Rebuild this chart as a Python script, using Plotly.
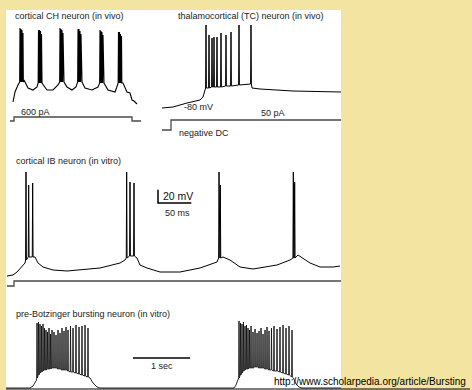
import plotly.graph_objects as go

W, H = 472, 390
BG = "#F4E4A1"
FONT = "Liberation Sans, Arial, sans-serif"

# ---------------- DATA ----------------
# Panel A: cortical CH neuron (in vivo)   time in ms, voltage in mV
A_base_t = [1, 3, 6, 12, 16, 21, 25, 30, 35, 41, 46, 52, 55, 60, 64, 70, 73, 80, 86, 92, 96, 103, 104.5, 111, 115, 118, 120, 122, 125]
A_base_v = [-72, -62, -55, -50, -58, -60, -57, -53, -60, -60, -55, -52, -57, -60, -57, -52, -58, -60, -57, -53, -60, -62, -58, -53, -62, -63, -70, -71, -74]
A_spk_t = [8, 9, 10, 11, 26.5, 27.5, 28.5, 29.5, 48, 49, 50, 51, 66, 67, 68, 69, 88, 89, 90, 91, 106.5, 107.5, 108.5, 109.5]
A_spk_base = [-52, -52, -52, -52, -53, -53, -53, -53, -52, -52, -52, -52, -52, -52, -52, -52, -53, -53, -53, -53, -53, -53, -53, -53]
A_spk_peak = [2, 1, 0, -3, 0, 0, -1, -4, 2, 1, 0, -3, 1, 1, -1, -4, 0, -1, -2, -5, -2, -2, -4, -6]
A_stim_t = [-2, 2, 2, 120, 120, 129]
A_stim_pA = [0, 0, 600, 600, 0, 0]

# Panel B: thalamocortical (TC) neuron (in vivo)
B_base_t = [0, 11, 25, 38, 41, 43, 90, 98, 131, 179]
B_base_v = [-84, -83, -79, -76, -73, -66, -64, -65, -67, -68]
B_spk_t = [44, 47, 50, 52, 55, 59, 64, 69, 77, 89]
B_spk_base = [-64, -64, -63, -63, -63, -63, -62, -62, -61, -60]
B_spk_peak = [-1, -11, -14, -13, -13, -9, -11, -8, -1, -1]
B_stim_t = [0, 9, 9, 179]
B_stim_pA = [-100, -100, 50, 50]

# Panel C: cortical IB neuron (in vitro)
C_base_t = [0, 9, 15, 22.5, 27, 42, 46.5, 54, 69, 90, 139.5, 169.5, 177, 195, 199.5, 210, 229.5, 259.5, 289.5, 315,
            324, 334.5, 349.5, 369, 405, 424.5, 436.5, 444, 454.5, 469.5, 489, 499.5]
C_base_v = [-65, -63.5, -59, -51.5, -45.5, -36.5, -45.5, -51.5, -56, -57.5, -53, -45.5, -41, -38, -48.5, -53, -59, -59, -53, -44,
            -36.5, -41, -51.5, -54.5, -48.5, -41, -33.5, -38, -45.5, -51.5, -51.5, -50]
C_spk_t = [28.5, 32.5, 38.5, 179.5, 184.5, 190.5, 318, 320, 429.5, 431.5]
C_spk_base = [-41, -36.5, -36.5, -38, -35, -35, -38, -38, -38, -38]
C_spk_peak = [91, 71.5, 74.5, 91, 76, 74.5, 91, 71.5, 91, 76]
C_stim_t = [0, 10.5, 10.5, 501]
C_stim_pA = [0, 0, 500, 500]
C_scale_mV = 20
C_scale_ms = 50

# Panel D: pre-Botzinger bursting neuron (in vitro)
D_base_t = [0, 420, 473, 508, 534, 1470, 1523, 1593, 1645, 3990, 4025, 4051, 5031, 5075, 5128, 5180, 5863]
D_base_v = [-60, -60, -58, -55, -52, -50, -55, -59, -60, -60, -57, -53, -50, -56, -59, -60, -60]
D_spk_t = [543, 569, 595, 621, 648, 674, 700, 726, 753, 779, 805, 840, 875, 910, 945, 980, 1015, 1050, 1085, 1129, 1173, 1225, 1278, 1330, 1383, 1435,
           4078, 4104, 4130, 4156, 4183, 4209, 4235, 4261, 4288, 4323, 4358, 4393, 4428, 4463, 4498, 4533, 4568, 4603, 4646, 4690, 4743, 4795, 4848, 4900, 4953, 5005]
D_spk_base = [-50, -47, -45, -44, -43, -42, -42, -41, -41, -41, -40, -40, -40, -41, -41, -42, -42, -42, -43, -44, -44, -45, -46, -47, -48, -49,
              -50, -47, -45, -43, -42, -41, -41, -40, -40, -40, -39, -39, -40, -40, -40, -41, -41, -42, -42, -43, -43, -44, -45, -46, -47, -49]
D_spk_peak = [5, 6, 4, 2, 4, 0, -2, -4, 0, -6, -2, -4, -7, -2, -5, 0, -3, 1, -2, 2, 0, 3, 1, 2, 3, 0,
              7, 5, 4, 6, 2, 3, 0, -2, 2, -4, -1, -5, -3, 0, -6, -2, 1, -3, 0, 2, -1, 1, 3, 0, 2, -2]
D_scale_s = 1

# ---------------- LAYOUT HELPERS ----------------
MAP = {
    "A": dict(px0=12, t0=0, sx=1.0, py0=90, v0=-60, sy=1.0, ipy0=121, i0=0, si=150),
    "B": dict(px0=162, t0=0, sx=1.0, py0=104, v0=-80, sy=1.0, ipy0=120, i0=50, si=15),
    "C": dict(px0=7, t0=0, sx=1.5, py0=276, v0=-65, sy=1.5, ipy0=286, i0=0, si=100),
    "D": dict(px0=6, t0=0, sx=17.5, py0=388, v0=-60, sy=1.0),
}


def xr(m):
    return [m["t0"] + (0 - m["px0"]) * m["sx"], m["t0"] + (W - m["px0"]) * m["sx"]]


def yr(py0, v0, s):
    return [v0 + (py0 - H) * s, v0 + py0 * s]


def build(bt, bv, st, sb, sp, eps):
    ev = [(t, 0, v, None) for t, v in zip(bt, bv)] + [(t, 1, b, p) for t, b, p in zip(st, sb, sp)]
    ev.sort(key=lambda e: e[0])
    xs, ys = [], []
    for t, kind, v, p in ev:
        if kind == 0:
            xs.append(t); ys.append(v)
        else:
            xs += [t - eps, t, t + eps]
            ys += [v, p, v]
    return xs, ys


fig = go.Figure()
LINE = dict(color="#000000", width=1.1)
STIM = dict(color="#4a4a4a", width=1.3)

ax, ay = build(A_base_t, A_base_v, A_spk_t, A_spk_base, A_spk_peak, 0.35)
fig.add_trace(go.Scatter(x=ax, y=ay, mode="lines", line=LINE, xaxis="x", yaxis="y"))
fig.add_trace(go.Scatter(x=A_stim_t, y=A_stim_pA, mode="lines", line=STIM, xaxis="x", yaxis="y5"))

bx, by = build(B_base_t, B_base_v, B_spk_t, B_spk_base, B_spk_peak, 0.4)
fig.add_trace(go.Scatter(x=bx, y=by, mode="lines", line=dict(color="#000", width=1.0), xaxis="x2", yaxis="y2"))
fig.add_trace(go.Scatter(x=B_stim_t, y=B_stim_pA, mode="lines", line=STIM, xaxis="x2", yaxis="y6"))

cx, cy = build(C_base_t, C_base_v, C_spk_t, C_spk_base, C_spk_peak, 0.6)
fig.add_trace(go.Scatter(x=cx, y=cy, mode="lines", line=dict(color="#000", width=1.0), xaxis="x3", yaxis="y3"))
fig.add_trace(go.Scatter(x=C_stim_t, y=C_stim_pA, mode="lines", line=STIM, xaxis="x3", yaxis="y7"))
sb_t0, sb_v0 = 226.5, 44.5
fig.add_trace(go.Scatter(x=[sb_t0, sb_t0, sb_t0 + C_scale_ms], y=[sb_v0 + C_scale_mV, sb_v0, sb_v0],
                         mode="lines", line=dict(color="#000", width=1.5), xaxis="x3", yaxis="y3"))

dx, dy = build(D_base_t, D_base_v, D_spk_t, D_spk_base, D_spk_peak, 6.0)
fig.add_trace(go.Scatter(x=dx, y=dy, mode="lines", line=dict(color="#111", width=0.9), xaxis="x4", yaxis="y4"))
sd_t0, sd_v0 = 2222.5, -30
fig.add_trace(go.Scatter(x=[sd_t0, sd_t0 + D_scale_s * 1000], y=[sd_v0, sd_v0],
                         mode="lines", line=dict(color="#000", width=1.5), xaxis="x4", yaxis="y4"))

ax_common = dict(visible=False, domain=[0, 1], fixedrange=True, showgrid=False, zeroline=False)
layout = dict(
    width=W, height=H, autosize=False, showlegend=False,
    margin=dict(l=0, r=0, t=0, b=0, pad=0),
    paper_bgcolor=BG, plot_bgcolor=BG,
    xaxis=dict(ax_common, range=xr(MAP["A"])),
    xaxis2=dict(ax_common, range=xr(MAP["B"]), overlaying="x"),
    xaxis3=dict(ax_common, range=xr(MAP["C"]), overlaying="x"),
    xaxis4=dict(ax_common, range=xr(MAP["D"]), overlaying="x"),
    yaxis=dict(ax_common, range=yr(MAP["A"]["py0"], MAP["A"]["v0"], MAP["A"]["sy"])),
    yaxis2=dict(ax_common, anchor="x2", overlaying="y", range=yr(MAP["B"]["py0"], MAP["B"]["v0"], MAP["B"]["sy"])),
    yaxis3=dict(ax_common, anchor="x3", overlaying="y", range=yr(MAP["C"]["py0"], MAP["C"]["v0"], MAP["C"]["sy"])),
    yaxis4=dict(ax_common, anchor="x4", overlaying="y", range=yr(MAP["D"]["py0"], MAP["D"]["v0"], MAP["D"]["sy"])),
    yaxis5=dict(ax_common, anchor="x", overlaying="y", range=yr(MAP["A"]["ipy0"], MAP["A"]["i0"], MAP["A"]["si"])),
    yaxis6=dict(ax_common, anchor="x2", overlaying="y", range=yr(MAP["B"]["ipy0"], MAP["B"]["i0"], MAP["B"]["si"])),
    yaxis7=dict(ax_common, anchor="x3", overlaying="y", range=yr(MAP["C"]["ipy0"], MAP["C"]["i0"], MAP["C"]["si"])),
)
fig.update_layout(**layout)


def P(px, py):
    return px / W, 1 - py / H


x0, y1 = P(6, 10)
x1, y0 = P(341, H)
fig.add_shape(type="rect", xref="paper", yref="paper", x0=x0, x1=x1, y0=y0, y1=y1,
              fillcolor="#FFFFFF", line=dict(width=0), layer="below")
lx0, ly = P(6, 389)
lx1, _ = P(470, 389)
fig.add_shape(type="line", xref="paper", yref="paper", x0=lx0, x1=lx1, y0=ly, y1=ly,
              line=dict(color="#000", width=1.2))

labels = [
    ("cortical CH neuron (in vivo)", 14, 16, 9, "#222"),
    ("thalamocortical (TC) neuron (in vivo)", 177, 16, 9, "#222"),
    ("600 pA", 20, 112, 9, "#222"),
    ("-80 mV", 183, 107, 9, "#222"),
    ("50 pA", 260, 113, 9, "#222"),
    ("negative DC", 178, 133, 9, "#222"),
    ("cortical IB neuron (in vitro)", 15, 161, 9, "#222"),
    ("20 mV", 162, 196, 10.5, "#111"),
    ("50 ms", 164, 213, 9, "#222"),
    ("pre-Botzinger bursting neuron (in vitro)", 15, 314, 9, "#222"),
    ("1 sec", 150, 366, 9, "#222"),
    ("http://www.scholarpedia.org/article/Bursting", 273, 381, 10, "#000"),
]
for txt, px, py, sz, col in labels:
    x, y = P(px, py)
    fig.add_annotation(text=txt, x=x, y=y, xref="paper", yref="paper", xanchor="left", yanchor="middle",
                       showarrow=False, font=dict(family=FONT, size=sz, color=col), borderpad=0)

fig.write_html("out.html", config={"displayModeBar": False},
               post_script="document.body.style.margin='0px';document.body.style.overflow='hidden';")
